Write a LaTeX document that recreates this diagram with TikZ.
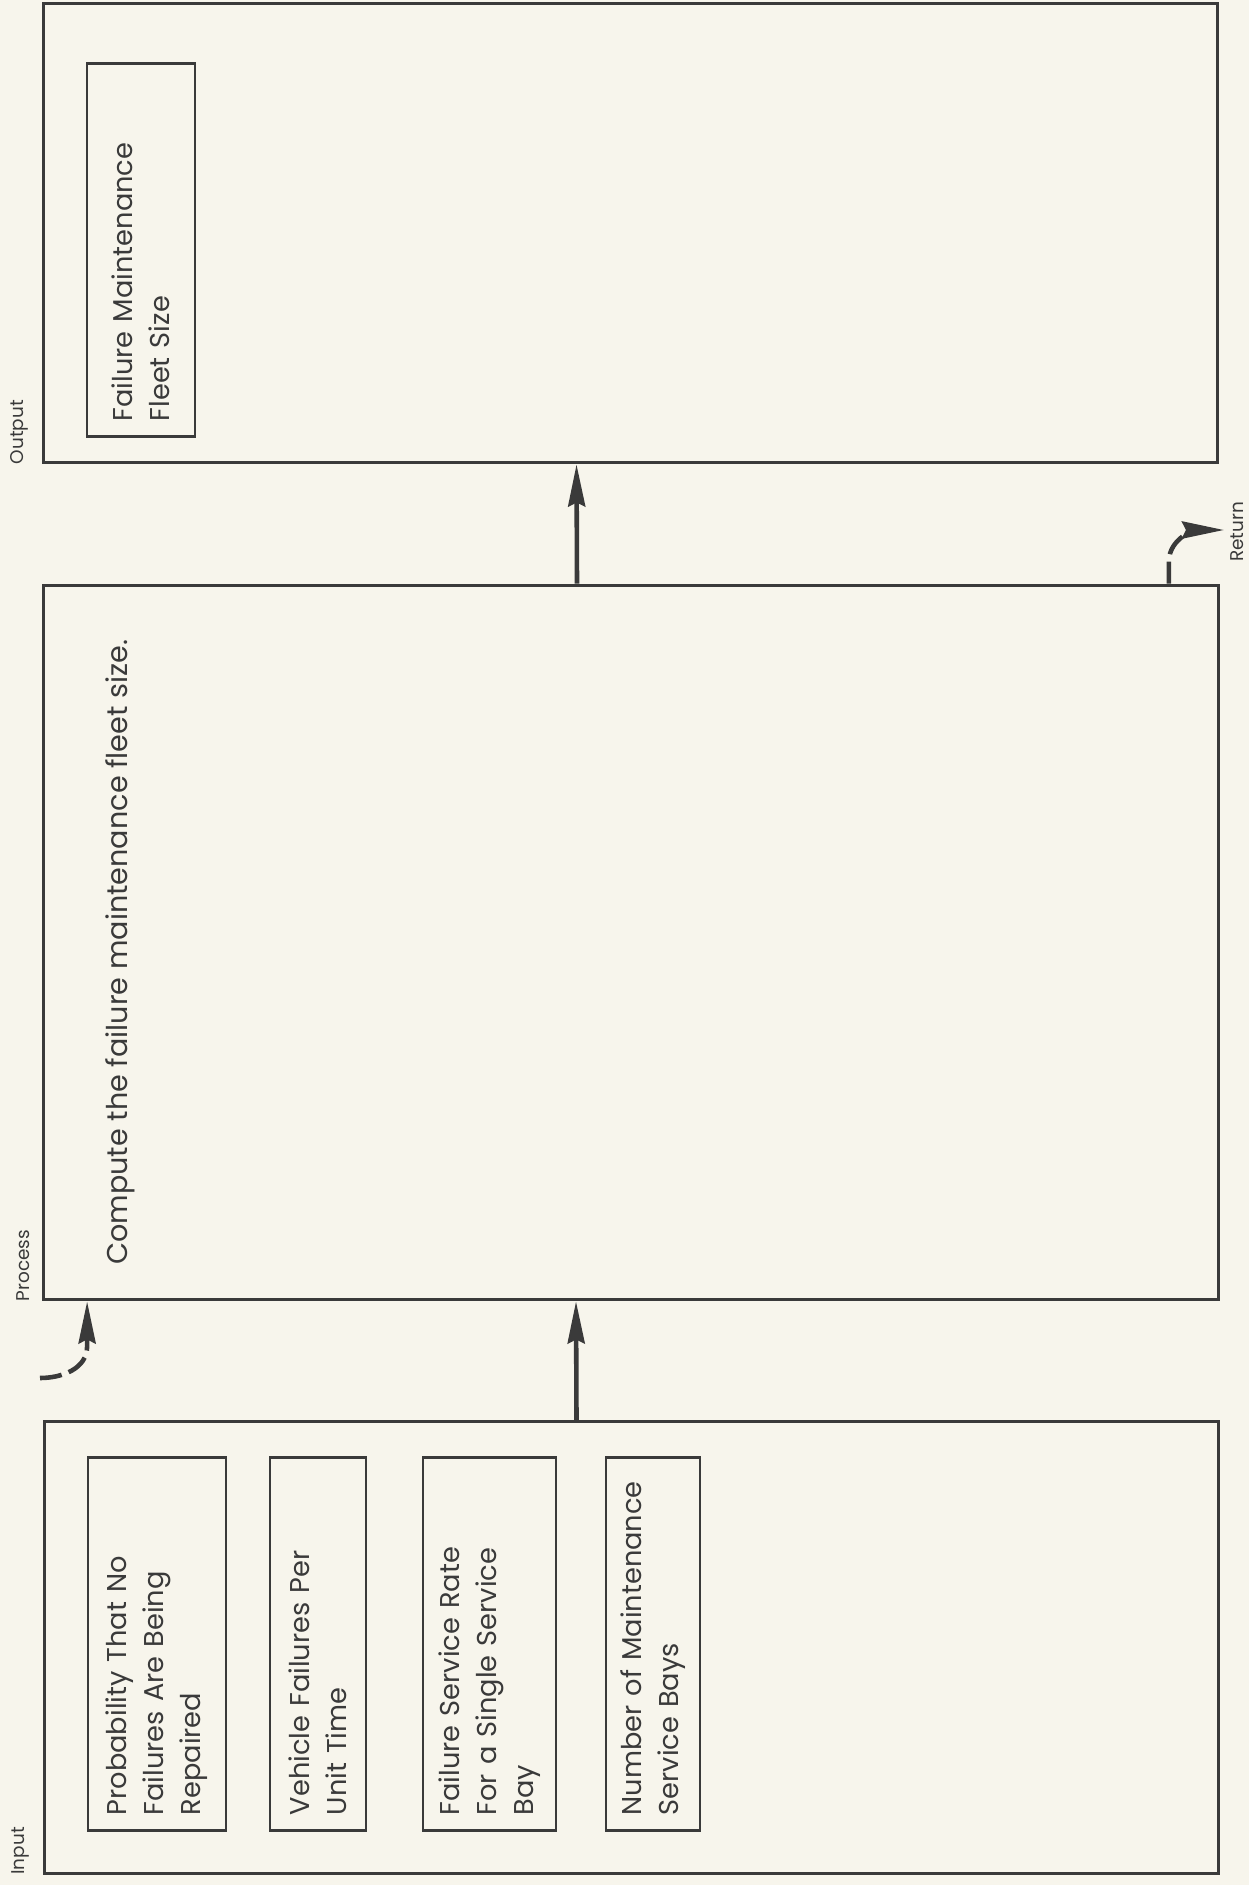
\documentclass[tikz,border=0pt]{standalone}
\usepackage{fontspec}
\setmainfont{Poppins}
\usepackage{xcolor}
\definecolor{ink}{HTML}{3A3A3A}
\definecolor{paper}{HTML}{F7F5EC}
\usetikzlibrary{positioning,arrows.meta}
\begin{document}
\begin{tikzpicture}[x=0.02cm,y=-0.02cm,
  frame/.style={draw=ink,line width=1.7pt,minimum width=23.5cm,inner sep=0pt},
  item/.style={draw=ink,line width=1.5pt,rotate=90,minimum width=7.46cm,text width=6.85cm,align=left,
               font=\fontsize{15.5}{21}\selectfont,text=ink,inner sep=0pt},
  body/.style={rotate=90,font=\fontsize{16.3}{21}\selectfont,text=ink,inner sep=0pt},
  lbl/.style={rotate=90,font=\fontsize{10.5}{12}\selectfont,text=ink,inner sep=0pt},
  flow/.style={-{Stealth[length=0.84cm,width=0.34cm,inset=0.08cm]},draw=ink,line width=2.6pt},
  back/.style={flow,dash pattern=on 0.44cm off 0.15cm}]
\fill[paper] (0,0) rectangle (1249,1885);
\useasboundingbox (0,0) rectangle (1249,1885);
\node[frame,minimum height=9.2cm] (outbox) at (630.5,233) {};
\node[frame,minimum height=14.3cm] (procbox) at (631,942.5) {};
\node[frame,minimum height=9.04cm] (inbox) at (631.5,1647.5) {};
\node[item,minimum height=2.16cm] (fleet) at (141,250) {Failure Maintenance\\Fleet Size};
\node[item,minimum height=2.76cm] (pnone) at (157,1644) {Probability That No\\Failures Are Being\\Repaired};
\node[item,minimum height=1.92cm] (vfail) at (318,1644) {Vehicle Failures Per\\Unit Time};
\node[item,minimum height=2.66cm] (srate) at (489.5,1644) {Failure Service Rate\\For a Single Service\\Bay};
\node[item,minimum height=1.88cm] (nbays) at (653,1644) {Number of Maintenance\\Service Bays};
\node[body,anchor=north west] (task) at (105,1265) {Compute the failure maintenance fleet size.};
\node[lbl,anchor=south west] (outlbl) at ([xshift=-0.25cm]outbox.south west) {Output};
\node[lbl,anchor=south west] (proclbl) at ([xshift=-0.25cm]procbox.south west) {Process};
\node[lbl,anchor=south west] (inlbl) at ([xshift=-0.25cm]inbox.south west) {Input};
\node[lbl] (retlbl) at (1237,532) {Return};
\draw[flow] ([xshift=-1.1cm]inbox.north) -- ([xshift=-1.1cm]procbox.south);
\draw[flow] ([xshift=-1.08cm]procbox.north) -- ([xshift=-1.08cm]outbox.south);
\coordinate (entry) at (40,1378);
\coordinate (exit) at (1224,530);
\draw[back] (entry) to[out=0,in=-90] ([xshift=0.9cm,yshift=-0.9cm]procbox.south west) -- ([xshift=0.9cm]procbox.south west);
\draw[back] ([xshift=-1.02cm]procbox.north east) -- ++(0,-22) to[out=90,in=180] (exit);
\end{tikzpicture}
\end{document}
